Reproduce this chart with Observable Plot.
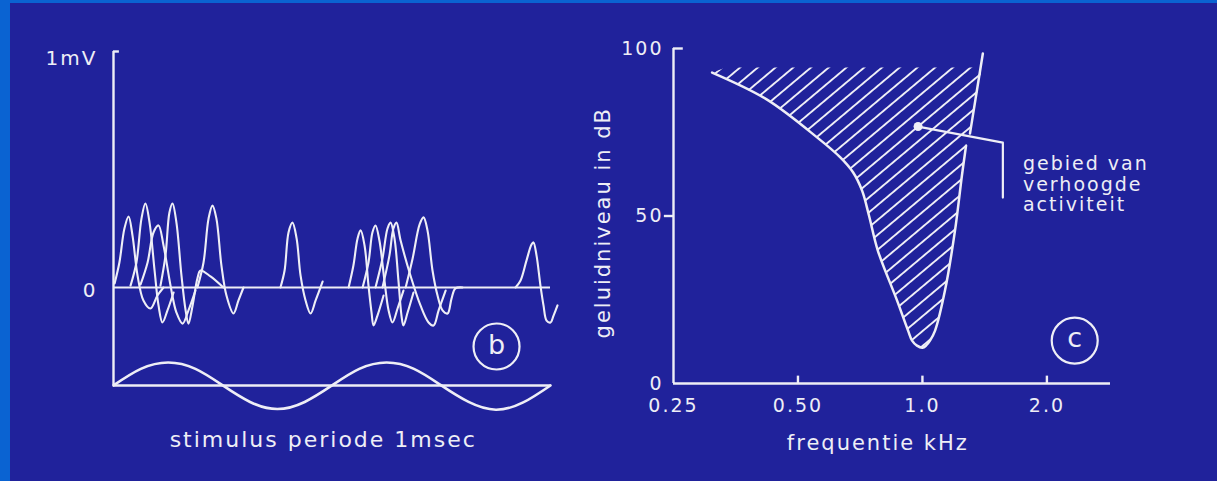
<!DOCTYPE html>
<html><head><meta charset="utf-8">
<script src="https://cdn.jsdelivr.net/npm/d3@7"></script>
<script src="https://cdn.jsdelivr.net/npm/@observablehq/plot@0.6"></script>
<style>
html,body{margin:0;padding:0;background:#20229b;}
#slide{position:relative;width:1217px;height:481px;background:#20229b;overflow:hidden;}
#slide .strip{position:absolute;background:#0a63d2;}
#slide .panel{position:absolute;top:0;}
</style></head><body>
<div id="slide">
  <div class="strip" style="left:0;top:0;width:1217px;height:3px"></div>
  <div class="strip" style="left:0;top:0;width:10px;height:481px"></div>
  <div class="panel" id="panelB" style="left:0"></div>
  <div class="panel" id="panelC" style="left:580px"></div>
</div>
<script>
// ---------- panel b: spike traces (time ms, potential mV) ----------
const traceA = [[0.005,0.017],[0.027,0.106],[0.050,0.250],[0.069,0.301],[0.087,0.220],[0.110,0.051],[0.137,-0.055],[0.169,-0.089],[0.201,-0.034],[0.229,0]];
const traceB = [[0.078,0.008],[0.105,0.106],[0.128,0.292],[0.146,0.356],[0.165,0.275],[0.188,0.072],[0.206,-0.076],[0.224,-0.148],[0.247,-0.097],[0.275,-0.021]];
const traceC = [[0.124,0.013],[0.156,0.106],[0.183,0.233],[0.206,0.263],[0.229,0.178],[0.261,0.008],[0.288,-0.106],[0.316,-0.153],[0.343,-0.097],[0.375,-0.013]];
const traceD = [[0.215,0.008],[0.238,0.136],[0.256,0.318],[0.270,0.356],[0.288,0.275],[0.311,0.051],[0.330,-0.097],[0.343,-0.153],[0.362,-0.076],[0.384,0.038],[0.398,0.072],[0.444,0.047],[0.503,0]];
const traceE = [[0.384,0],[0.412,0.106],[0.435,0.292],[0.453,0.347],[0.471,0.292],[0.494,0.093],[0.517,-0.034],[0.549,-0.110],[0.572,-0.055],[0.595,0]];
const traceF = [[0.764,0],[0.783,0.072],[0.801,0.233],[0.819,0.275],[0.838,0.208],[0.856,0.051],[0.879,-0.055],[0.902,-0.110],[0.925,-0.055],[0.957,0.025]];
const traceG = [[1.076,0],[1.098,0.093],[1.117,0.208],[1.131,0.242],[1.149,0.178],[1.167,0.008],[1.181,-0.106],[1.190,-0.161],[1.208,-0.119],[1.236,-0.034]];
const traceH = [[1.140,0],[1.167,0.106],[1.185,0.233],[1.199,0.263],[1.217,0.199],[1.240,0.030],[1.259,-0.097],[1.277,-0.148],[1.300,-0.089],[1.327,-0.013]];
const traceI = [[1.199,0],[1.231,0.123],[1.254,0.250],[1.268,0.275],[1.286,0.208],[1.304,0.030],[1.318,-0.119],[1.327,-0.161],[1.346,-0.106],[1.373,-0.021]];
const traceJ = [[1.231,0],[1.263,0.136],[1.281,0.250],[1.295,0.275],[1.314,0.199],[1.359,0.051],[1.405,-0.076],[1.442,-0.148],[1.465,-0.161],[1.488,-0.097],[1.520,-0.013]];
const traceK = [[1.337,0],[1.369,0.123],[1.401,0.267],[1.419,0.297],[1.437,0.242],[1.460,0.072],[1.483,-0.034],[1.506,-0.097],[1.529,-0.110],[1.547,-0.047],[1.565,-0.004],[1.597,0]];
const traceL = [[1.840,0],[1.863,0.030],[1.890,0.114],[1.913,0.182],[1.922,0.191],[1.936,0.136],[1.954,0.008],[1.968,-0.076],[1.982,-0.140],[2.000,-0.148],[2.014,-0.119],[2.032,-0.076]];

// stimulus sine (1 ms period), drawn below the traces
const stimulusBase = -0.415;
const stimulusT = [0, 0.125, 0.25, 0.375, 0.5, 0.625, 0.75, 0.875, 1.0, 1.125, 1.25, 1.375, 1.5, 1.625, 1.75, 1.875, 2.0];
const stimulusV = [-0.415, -0.345, -0.318, -0.345, -0.415, -0.485, -0.515, -0.485, -0.415, -0.345, -0.318, -0.345, -0.415, -0.485, -0.518, -0.487, -0.415];

const yTicksB = [1, 0];
const yTickLabelsB = ["1mV", "0"];
const xTitleB = "stimulus periode 1msec";

// ---------- panel c: tuning curve (frequency kHz, level dB) ----------
const curveFreq = [0.31, 0.42, 0.557, 0.633, 0.68, 0.715, 0.743, 0.78, 0.868, 0.923, 0.944, 0.97, 1.0, 1.02, 1.043, 1.073, 1.134, 1.199, 1.246, 1.275];
const curveDb   = [92.8, 84.8, 73.4, 67.5, 63.0, 57.5, 50, 39.7, 24.8, 15.8, 12.8, 11.3, 10.7, 11.3, 12.8, 15.8, 27.8, 45.7, 62.1, 71];
const edgeFreq = [1.303, 1.40];
const edgeDb   = [74.6, 98.5];
const hatchFreq = [0.31, 0.335, 1.393, 1.303, 1.275, 1.246, 1.199, 1.134, 1.073, 1.043, 1.02, 1.0, 0.97, 0.944, 0.923, 0.868, 0.78, 0.743, 0.715, 0.68, 0.633, 0.557, 0.42];
const hatchDb   = [92.8, 94.3, 94.3, 74.6, 71, 62.1, 45.7, 27.8, 15.8, 12.8, 11.3, 10.7, 11.3, 12.8, 15.8, 24.8, 39.7, 50, 57.5, 63.0, 67.5, 73.4, 84.8];
const leaderFreq = [0.976, 1.565, 1.565];
const leaderDb   = [76.7, 71.9, 55.5];
const noteC = "gebied van\nverhoogde\nactiviteit";
const xTicksC = [0.25, 0.5, 1, 2];
const xTickLabelsC = ["0.25", "0.50", "1.0", "2.0"];
const yTicksC = [100, 50, 0];
const xTitleC = "frequentie kHz";
const yTitleC = "geluidniveau in dB";

const ink = "#eeeef6";
const font = "'DejaVu Sans', sans-serif";

const traces = [traceA, traceB, traceC, traceD, traceE, traceF, traceG, traceH, traceI, traceJ, traceK, traceL];
const spikes = traces.flatMap((tr, i) => tr.map(([t, v]) => ({trace: i, t, v})));
const stimulus = stimulusT.map((t, i) => ({t, v: stimulusV[i]}));

const plotB = Plot.plot({
  width: 580, height: 481,
  marginLeft: 113, marginRight: 30, marginTop: 51, marginBottom: 17,
  x: {domain: [0, 2], axis: null},
  y: {domain: [-0.75, 1], axis: null},
  style: {background: "transparent", color: ink, fontFamily: font, overflow: "visible", letterSpacing: "2px"},
  marks: [
    Plot.ruleX([0], {y1: stimulusBase, y2: 1, stroke: ink, strokeWidth: 2.4}),
    Plot.ruleY([1], {x1: 0, x2: 0.027, stroke: ink, strokeWidth: 2.4}),
    Plot.ruleY([0], {x1: 0, x2: 2, stroke: ink, strokeWidth: 2.2}),
    Plot.ruleY([stimulusBase], {x1: 0, x2: 2, stroke: ink, strokeWidth: 2.4}),
    Plot.line(stimulus, {x: "t", y: "v", curve: "natural", stroke: ink, strokeWidth: 2.6}),
    Plot.line(spikes, {x: "t", y: "v", z: "trace", curve: "catmull-rom", stroke: ink, strokeWidth: 2.1}),
    Plot.text([yTicksB[0]], {x: 0, y: d => d, text: [yTickLabelsB[0]], textAnchor: "end", dx: -16, dy: 7, fontSize: 20, fill: ink}),
    Plot.text([yTicksB[1]], {x: 0, y: d => d, text: [yTickLabelsB[1]], textAnchor: "end", dx: -16, dy: 3, fontSize: 20, fill: ink}),
    Plot.dot([[1.753, -0.25]], {x: d => d[0], y: d => d[1], r: 23, stroke: ink, strokeWidth: 2.2, fill: "none"}),
    Plot.text([[1.753, -0.25]], {x: d => d[0], y: d => d[1], text: ["b"], fontSize: 27, fill: ink, dy: -1, dx: 1}),
    Plot.text([xTitleB], {x: 0.96, y: -0.648, text: d => d, fontSize: 22, fill: ink})
  ]
});
document.getElementById("panelB").appendChild(plotB);

const hatch = hatchFreq.map((f, i) => ({f, db: hatchDb[i]}));
const curve = curveFreq.map((f, i) => ({f, db: curveDb[i]}));
const edge = edgeFreq.map((f, i) => ({f, db: edgeDb[i]}));
const leader = leaderFreq.map((f, i) => ({f, db: leaderDb[i]}));

const plotC = Plot.plot({
  width: 637, height: 481,
  marginLeft: 93, marginRight: 107, marginTop: 48, marginBottom: 98,
  x: {type: "log", domain: [0.25, 2.85], axis: null},
  y: {domain: [0, 100], axis: null},
  style: {background: "transparent", color: ink, fontFamily: font, overflow: "visible", letterSpacing: "2px"},
  marks: [
    Plot.line(hatch, {x: "f", y: "db", fill: "#010203", stroke: "none"}),
    Plot.ruleX([0.25], {y1: 0, y2: 100, stroke: ink, strokeWidth: 2.4}),
    Plot.ruleY([0], {x1: 0.25, x2: 2.85, stroke: ink, strokeWidth: 2.4}),
    Plot.ruleY([100], {x1: 0.25, x2: 0.264, stroke: ink, strokeWidth: 2.4}),
    Plot.ruleY([50], {x1: 0.2376, x2: 0.25, stroke: ink, strokeWidth: 2.4}),
    Plot.ruleX([0.5, 1, 2], {y1: 0, y2: 2.2, stroke: ink, strokeWidth: 2.4}),
    Plot.line(curve, {x: "f", y: "db", curve: "catmull-rom", stroke: ink, strokeWidth: 2.5}),
    Plot.line(edge, {x: "f", y: "db", stroke: ink, strokeWidth: 2.5}),
    Plot.line(leader, {x: "f", y: "db", stroke: ink, strokeWidth: 2.2}),
    Plot.dot([leader[0]], {x: "f", y: "db", r: 4.5, fill: ink}),
    Plot.text([noteC], {x: 1.75, y: 59.5, text: d => d, textAnchor: "start", lineAnchor: "middle", lineHeight: 1.08, fontSize: 19, fill: ink}),
    Plot.text(yTicksC, {x: 0.25, y: d => d, text: d => String(d), textAnchor: "end", dx: -10, fontSize: 19, fill: ink}),
    Plot.text(xTicksC, {x: d => d, y: 0, text: (d, i) => xTickLabelsC[i], dy: 22, fontSize: 19, fill: ink}),
    Plot.text([xTitleC], {x: 0.78, y: -17.9, text: d => d, fontSize: 21, fill: ink}),
    Plot.text([yTitleC], {x: 0.25, y: 48, text: d => d, rotate: -90, dx: -70, fontSize: 21, fill: ink}),
    Plot.dot([[2.335, 12.8]], {x: d => d[0], y: d => d[1], r: 23, stroke: ink, strokeWidth: 2.2, fill: "none"}),
    Plot.text([[2.335, 12.8]], {x: d => d[0], y: d => d[1], text: ["c"], fontSize: 27, fill: ink, dy: -2, dx: 1})
  ]
});
// hatching pattern for the region of raised activity
const svgC = d3.select(plotC);
const defs = svgC.insert("defs", ":first-child");
const pat = defs.append("pattern").attr("id", "hatch").attr("patternUnits", "userSpaceOnUse")
  .attr("width", 11.4).attr("height", 11.4).attr("patternTransform", "rotate(50)");
pat.append("line").attr("x1", 5.7).attr("y1", 0).attr("x2", 5.7).attr("y2", 11.4)
  .attr("stroke", ink).attr("stroke-width", 1.9);
svgC.selectAll('[fill="#010203"]').attr("fill", "url(#hatch)");
document.getElementById("panelC").appendChild(plotC);
</script>
</body></html>
